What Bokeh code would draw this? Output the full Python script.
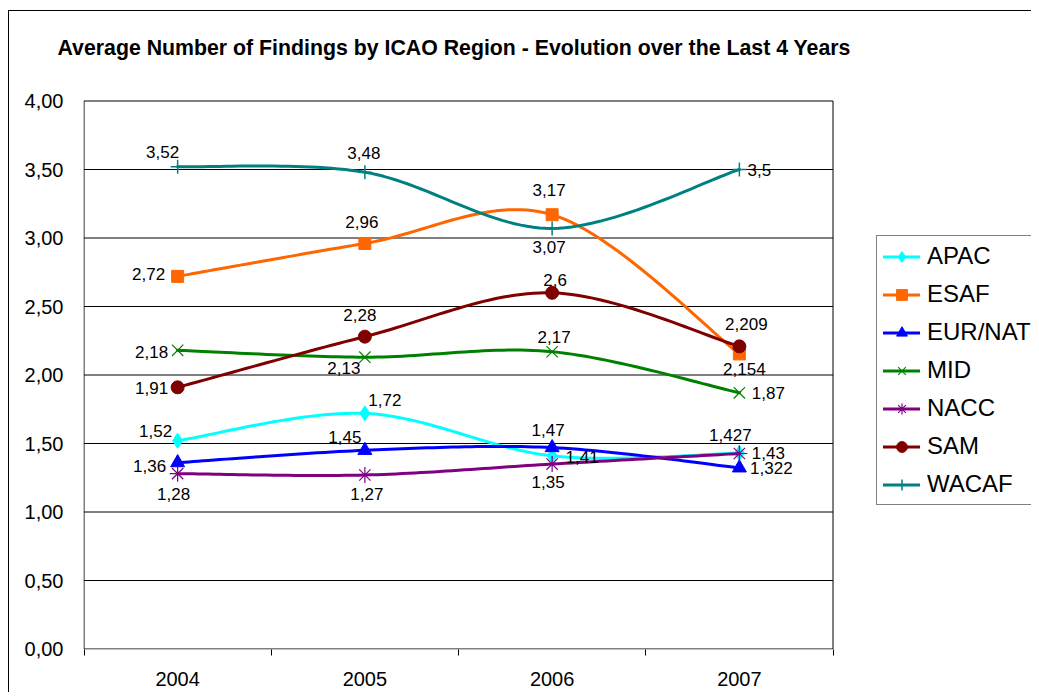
import numpy as np
from bokeh.plotting import figure
from bokeh.models import (ColumnDataSource, FixedTicker, CustomJSTickFormatter,
                          Legend, LegendItem, Range1d)
from bokeh.core.properties import value
from bokeh.embed import file_html
from bokeh.resources import INLINE

# ---------------- data ----------------
title = "Average Number of Findings by ICAO Region - Evolution over the Last 4 Years"
years = ["2004", "2005", "2006", "2007"]
regions = ["APAC", "ESAF", "EUR/NAT", "MID", "NACC", "SAM", "WACAF"]
apac = [1.52, 1.72, 1.41, 1.43]
esaf = [2.72, 2.96, 3.17, 2.154]
eur_nat = [1.36, 1.45, 1.47, 1.322]
mid = [2.18, 2.13, 2.17, 1.87]
nacc = [1.28, 1.27, 1.35, 1.427]
sam = [1.91, 2.28, 2.6, 2.209]
wacaf = [3.52, 3.48, 3.07, 3.5]
y_ticks = [0.0, 0.5, 1.0, 1.5, 2.0, 2.5, 3.0, 3.5, 4.0]

series = [apac, esaf, eur_nat, mid, nacc, sam, wacaf]

# ---------------- styles ----------------
colors = ["#00FFFF", "#FF6600", "#0000FF", "#008000", "#800080", "#800000", "#008080"]
markers = ["diamond", "square", "triangle", "x", "asterisk", "circle", "cross"]
msizes = [15, 12, 14, 16, 16, 13, 14]
mline = [1, 1, 1, 1.2, 1.2, 1, 1.5]
filled = [True, True, True, False, False, True, False]
# label offsets in pixels (dx right, dy down)
lab_dx = [[-22, 20, 30, 29], [-29, -3, -3, 5], [-28, -20, -4, 32], [-26, -21, 2, 29],
          [-4, 2, -4, -9], [-26, -5, 3, 7], [-15, -1, -3, 20]]
lab_dy = [[-10, -13, 1, 0], [-2, -21, -25, 15], [3, -13, -18, 0], [2, 11, -15, 0],
          [20, 19, 18, -19], [1, -22, -13, -22], [-15, -19, 19, 0]]

FONT = "Liberation Sans"
xpos = [1, 2, 3, 4]
W, H = 1031, 692
LEFT, TOP, BOTTOM = 83, 101, 43      # plotting-area edges (px)
FRAME_TOP = 60                       # frame starts just under the title
PLOT_W = 749                         # width of the plotting area (4 categories)
PLOT_H = H - TOP - BOTTOM
X0, X1 = 0.5, 4.5                    # category boundaries of the plotting area
Y0, Y1 = 0.0, 4.0
ux = (X1 - X0) / PLOT_W              # data units per pixel
uy = (Y1 - Y0) / PLOT_H
x_end = X0 + (W - LEFT) * ux         # frame extends under the legend
y_end = Y1 + (TOP - FRAME_TOP) * uy  # and a little above the plotting area


def smooth(xs, ys, n=30):
    """Excel-style smoothed line (cubic Bezier, 1/6 tangents)."""
    P = np.column_stack([xs, ys]).astype(float)
    m = len(P)
    pts = [P[0]]
    t = np.linspace(0, 1, n + 1)[1:, None]
    for i in range(m - 1):
        p0, p1 = P[i], P[i + 1]
        pm = P[i - 1] if i > 0 else P[i]
        p2 = P[i + 2] if i + 2 < m else P[i + 1]
        c1 = p0 + (p1 - pm) / 6.0
        c2 = p1 - (p2 - p0) / 6.0
        B = (1 - t) ** 3 * p0 + 3 * (1 - t) ** 2 * t * c1 + 3 * (1 - t) * t ** 2 * c2 + t ** 3 * p1
        pts.extend(B)
    pts = np.array(pts)
    return pts[:, 0], pts[:, 1]


# ranges shifted by half a pixel so that 1px rules are crisp
p = figure(width=W, height=H,
           x_range=Range1d(X0 - 0.5 * ux, x_end - 0.5 * ux),
           y_range=Range1d(Y0 - 0.5 * uy, y_end - 0.5 * uy),
           output_backend="svg", toolbar_location=None,
           min_border_left=LEFT, min_border_right=0,
           min_border_top=FRAME_TOP, min_border_bottom=BOTTOM)

p.background_fill_color = "white"
p.border_fill_color = None
p.outline_line_color = None
# outer chart-area border (left and top edges)
p.styles = {"box-shadow": "inset 8px 10px 0 0 #ffffff, inset 9px 11px 0 0 #000000"}

# title
p.title.text = title
p.title.align = "left"
p.title.vertical_align = "bottom"
p.title.offset = -26
p.title.standoff = 2
p.title.text_font = FONT
p.title.text_font_style = "bold"
p.title.text_font_size = "21.3px"
p.title.text_color = "black"

# axes
p.xaxis.ticker = FixedTicker(ticks=xpos, minor_ticks=[0.5, 1.5, 2.5, 3.5, 4.5])
p.xaxis.formatter = CustomJSTickFormatter(
    args=dict(labels=years),
    code="const i = Math.round(tick) - 1; return (i >= 0 && i < labels.length) ? labels[i] : '';")
p.xaxis.major_tick_line_color = None
p.xaxis.major_tick_out = 0
p.xaxis.major_tick_in = 0
p.xaxis.minor_tick_line_color = "black"
p.xaxis.minor_tick_out = 6
p.xaxis.minor_tick_in = 0
p.xaxis.major_label_standoff = 16
p.xaxis.major_label_text_font = FONT
p.xaxis.major_label_text_font_size = "20px"
p.xaxis.major_label_text_color = "black"
p.xaxis.axis_line_color = None

p.yaxis.ticker = FixedTicker(ticks=y_ticks)
p.yaxis.formatter = CustomJSTickFormatter(code="return tick.toFixed(2).replace('.', ',');")
p.yaxis.major_tick_line_color = None
p.yaxis.major_tick_out = 0
p.yaxis.major_tick_in = 0
p.yaxis.minor_tick_line_color = None
p.yaxis.major_label_standoff = 20
p.yaxis.major_label_text_font = FONT
p.yaxis.major_label_text_font_size = "20px"
p.yaxis.major_label_text_color = "black"
p.yaxis.axis_line_color = None

p.xgrid.visible = False
p.ygrid.visible = False

# horizontal gridlines (incl. x axis line) and edges of the plotting area
n = len(y_ticks)
p.segment(x0=[X0] * n, y0=y_ticks, x1=[X1] * n, y1=y_ticks, line_color="black", line_width=1)
p.segment(x0=[X0, X1], y0=[Y0, Y0], x1=[X0, X1], y1=[Y1, Y1], line_color="black", line_width=1)

items = []
lx, ly, lt, ldx, ldy = [], [], [], [], []
for k, (name, vals) in enumerate(zip(regions, series)):
    sx, sy = smooth(xpos, vals)
    rl = p.line(sx, sy, line_color=colors[k], line_width=3, line_join="round", line_cap="round")
    rs = p.scatter(xpos, vals, marker=markers[k], size=msizes[k],
                   line_color=colors[k], line_width=mline[k],
                   fill_color=colors[k] if filled[k] else None)
    items.append(LegendItem(label=name, renderers=[rl, rs]))
    for j, v in enumerate(vals):
        lx.append(xpos[j])
        ly.append(v)
        lt.append(str(v).replace(".", ","))
        ldx.append(lab_dx[k][j])
        ldy.append(lab_dy[k][j])

src = ColumnDataSource(dict(x=lx, y=ly, text=lt, dx=ldx, dy=ldy))
p.text(x="x", y="y", text="text", x_offset="dx", y_offset="dy", source=src,
       text_align="center", text_baseline="middle",
       text_font=value(FONT), text_font_size=value("17px"), text_color="black")

legend = Legend(items=items, location=(793, 144),
                label_text_font=FONT, label_text_font_size="24px", label_text_color="black",
                glyph_width=37, glyph_height=27, label_height=27, spacing=10,
                padding=6, margin=0, label_standoff=7,
                border_line_color="black", border_line_width=1,
                background_fill_color="white", background_fill_alpha=1.0)
p.add_layout(legend)

open("out.html", "w").write(file_html(p, INLINE))
